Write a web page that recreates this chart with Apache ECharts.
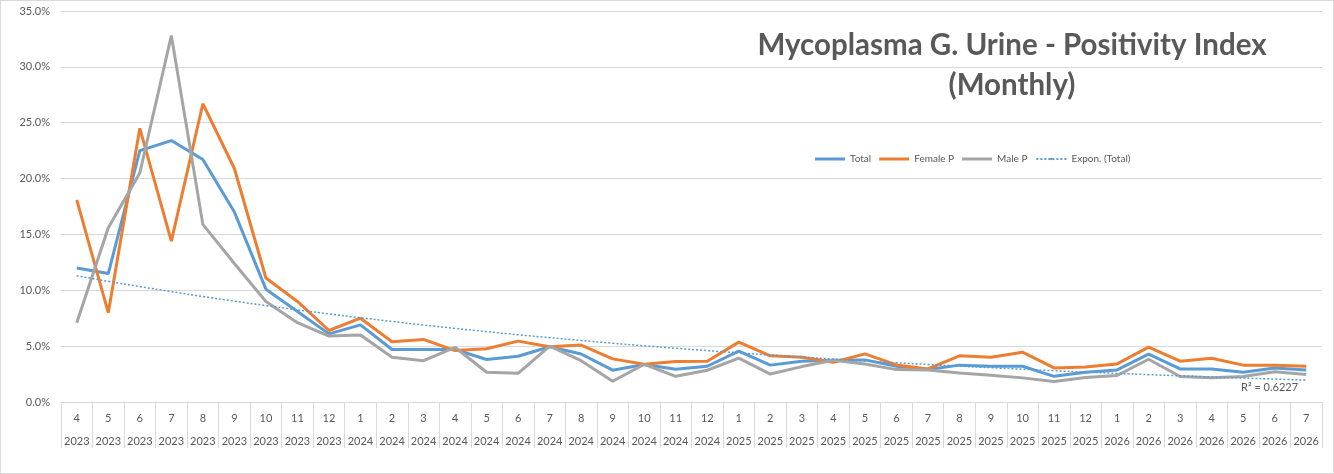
<!DOCTYPE html>
<html>
<head>
<meta charset="utf-8">
<script src="https://cdn.jsdelivr.net/npm/echarts@6/dist/echarts.min.js"></script>
<style>
  html, body { margin:0; padding:0; background:#fff; }
  #chart { width:1332px; height:472px; border:1px solid #d9d9d9; }
</style>
</head>
<body>
<div id="chart"></div>
<script>
// categories (month / year)
const months = [4,5,6,7,8,9,10,11,12, 1,2,3,4,5,6,7,8,9,10,11,12, 1,2,3,4,5,6,7,8,9,10,11,12, 1,2,3,4,5,6,7];
const years = [2023,2023,2023,2023,2023,2023,2023,2023,2023,
  2024,2024,2024,2024,2024,2024,2024,2024,2024,2024,2024,2024,
  2025,2025,2025,2025,2025,2025,2025,2025,2025,2025,2025,2025,
  2026,2026,2026,2026,2026,2026,2026];

// positivity (%)
const total = [12.0,11.5,22.5,23.4,21.7,17.0,10.1,8.1,6.1,6.9,4.7,4.7,4.7,3.8,4.1,4.95,4.3,2.85,3.35,2.93,3.2,4.55,3.3,3.65,3.74,
  3.77,3.2,2.9,3.3,3.2,3.2,2.3,2.66,2.87,4.28,2.96,2.96,2.66,3.05,2.87];
const female = [18.1,8.0,24.5,14.4,26.7,20.9,11.1,9.0,6.4,7.5,5.4,5.6,4.6,4.76,5.45,4.95,5.1,3.86,3.38,3.62,3.65,5.36,4.13,4.0,3.56,
  4.31,3.32,2.96,4.13,4.0,4.46,3.05,3.14,3.41,4.91,3.65,3.92,3.3,3.3,3.2];
const male = [7.1,15.6,20.5,32.8,15.9,12.4,9.0,7.1,5.9,6.0,4.0,3.7,4.9,2.66,2.57,5.0,3.7,1.86,3.38,2.3,2.84,3.92,2.5,3.17,3.74,
  3.41,2.9,2.87,2.6,2.4,2.16,1.83,2.19,2.37,3.83,2.28,2.16,2.28,2.7,2.46];
// exponential trendline of Total
const trend = [11.30,10.80,10.33,9.88,9.44,9.03,8.63,8.25,7.89,7.54,7.21,6.89,6.59,6.30,6.02,5.76,5.51,5.26,5.03,4.81,
  4.60,4.40,4.20,4.02,3.84,3.67,3.51,3.36,3.21,3.07,2.93,2.80,2.68,2.56,2.45,2.34,2.24,2.14,2.05,1.96];

const yTicks = [0,5,10,15,20,25,30,35];

const chart = echarts.init(document.getElementById("chart"));
const txt = "#595959";
const font = "Lato, 'Open Sans', sans-serif";

chart.setOption({
  animation:false,
  textStyle:{ fontFamily:font },
  title:{
    text:"Mycoplasma G. Urine - Positivity Index\n(Monthly)",
    left:1006, top:19, textAlign:"center",
    textStyle:{ fontFamily:font, fontSize:29.5, fontWeight:"bold", color:txt, lineHeight:40 }
  },
  legend:{
    top:148, left:809, itemWidth:30, itemHeight:3, itemGap:8,
    textStyle:{ fontSize:10, color:txt, fontFamily:font },
    data:[
      { name:"Total", icon:"rect" },
      { name:"Female P", icon:"rect" },
      { name:"Male P", icon:"rect" },
      { name:"Expon. (Total)" }
    ]
  },
  grid:{ left:60, right:11, top:10, bottom:71 },
  xAxis:{
    type:"category",
    data: months.map((m,i)=>m + "\n" + years[i]),
    axisLine:{ lineStyle:{ color:"#d9d9d9" } },
    axisTick:{ show:true, interval:0, length:46, lineStyle:{ color:"#d9d9d9" } },
    axisLabel:{ interval:0, color:txt, fontSize:11, lineHeight:23, margin:5, fontFamily:font }
  },
  yAxis:{
    type:"value", min:0, max:35, interval:5,
    axisLine:{ show:false }, axisTick:{ show:false },
    splitLine:{ lineStyle:{ color:"#d9d9d9" } },
    axisLabel:{ color:txt, fontSize:11, margin:11, fontFamily:font,
      formatter:v => yTicks.includes(v) ? v.toFixed(1) + "%" : "" }
  },
  series:[
    { name:"Total", type:"line", data:total, symbol:"none", color:"#5B9BD5", lineStyle:{ width:3 } },
    { name:"Female P", type:"line", data:female, symbol:"none", color:"#ED7D31", lineStyle:{ width:3 } },
    { name:"Male P", type:"line", data:male, symbol:"none", color:"#A5A5A5", lineStyle:{ width:3 } },
    { name:"Expon. (Total)", type:"line", data:trend, symbol:"none", smooth:true, color:"#5B9BD5",
      lineStyle:{ width:1.5, type:[2,2] } }
  ],
  graphic:[
    { type:"text", left:1240, top:381,
      style:{ text:"R² = 0.6227", fill:txt, font:"11px " + font } }
  ]
});

window.addEventListener("resize", () => chart.resize());
</script>
</body>
</html>
